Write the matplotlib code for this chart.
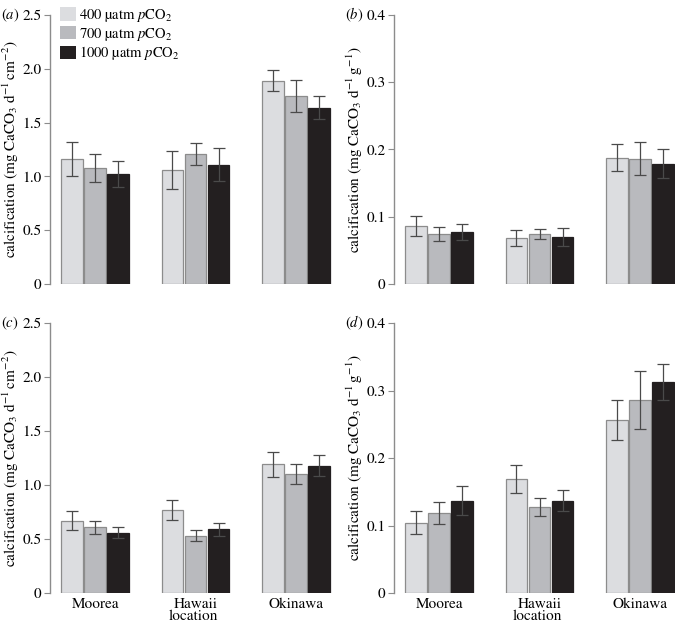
import matplotlib
matplotlib.use("Agg")
import matplotlib.pyplot as plt
import numpy as np
from matplotlib.patches import Patch
from matplotlib.ticker import FuncFormatter

plt.rcParams["font.family"] = ["STIXGeneral", "DejaVu Serif"]
plt.rcParams["mathtext.fontset"] = "stix"

# data
locations = ["Moorea", "Hawaii", "Okinawa"]
treatments = ["400 µatm $p$CO$_2$", "700 µatm $p$CO$_2$", "1000 µatm $p$CO$_2$"]
colors = ["#dcdde0", "#b9babe", "#231f20"]
edges = ["#8c8c8c", "#8c8c8c", "#231f20"]

# (a) area-normalised, first run
a_mean = [[1.16, 1.06, 1.89], [1.08, 1.21, 1.75], [1.02, 1.11, 1.64]]
a_err = [[0.16, 0.18, 0.10], [0.13, 0.105, 0.15], [0.12, 0.15, 0.11]]
# (b) mass-normalised, first run
b_mean = [[0.086, 0.069, 0.188], [0.075, 0.075, 0.186], [0.077, 0.070, 0.179]]
b_err = [[0.015, 0.012, 0.0205], [0.0105, 0.0075, 0.0245], [0.012, 0.0135, 0.021]]
# (c) area-normalised, second run
c_mean = [[0.67, 0.77, 1.19], [0.61, 0.53, 1.10], [0.56, 0.59, 1.18]]
c_err = [[0.087, 0.09, 0.115], [0.06, 0.053, 0.095], [0.055, 0.058, 0.10]]
# (d) mass-normalised, second run
d_mean = [[0.104, 0.169, 0.256], [0.1185, 0.127, 0.286], [0.137, 0.137, 0.313]]
d_err = [[0.0173, 0.0205, 0.030], [0.016, 0.0135, 0.043], [0.022, 0.015, 0.027]]

area_label = r"calcification (mg CaCO$_3$ $\mathrm{d^{-1}\,cm^{-2}}$)"
mass_label = r"calcification (mg CaCO$_3$ $\mathrm{d^{-1}\,g^{-1}}$)"

W, H = 675, 624
fig = plt.figure(figsize=(W / 100, H / 100), dpi=100)


def px_axes(left, top, width, height):
    return fig.add_axes([left / W, 1 - (top + height) / H, width / W, height / H])


panels = [
    ("a", a_mean, a_err, 2.5, 0.5, area_label, 50, 15, 269, False),
    ("b", b_mean, b_err, 0.4, 0.1, mass_label, 394, 15, 269, False),
    ("c", c_mean, c_err, 2.5, 0.5, area_label, 50, 323, 270, True),
    ("d", d_mean, d_err, 0.4, 0.1, mass_label, 394, 323, 270, True),
]

x = np.arange(len(locations))
offsets = [-0.23, 0.0, 0.23]
fmt = FuncFormatter(lambda v, p: "0" if abs(v) < 1e-9 else f"{v:.1f}")

for tag, means, errs, ymax, step, ylabel, left, top, height, bottom in panels:
    ax = px_axes(left, top, 286, height)
    for i in range(3):
        ax.bar(x + offsets[i], means[i], width=0.215, color=colors[i],
               edgecolor=edges[i], linewidth=0.9, zorder=2)
        ax.errorbar(x + offsets[i], means[i], yerr=errs[i], fmt="none",
                    ecolor="#4a4a4a", elinewidth=0.9, capsize=4, capthick=0.9,
                    zorder=3)
    ax.set_xlim(-0.45, 2.4)
    ax.set_ylim(0, ymax)
    ax.set_yticks(np.arange(0, ymax + step / 2, step))
    ax.yaxis.set_major_formatter(fmt)
    for s in ["top", "right", "bottom"]:
        ax.spines[s].set_visible(False)
    ax.spines["left"].set_color("#8c8c8c")
    ax.spines["left"].set_linewidth(1.0)
    ax.tick_params(axis="y", direction="out", length=4, color="#8c8c8c",
                   labelsize=11, pad=2)
    ax.tick_params(axis="x", length=0, labelsize=11, pad=3)
    ax.set_ylabel(ylabel, fontsize=11)
    ax.yaxis.set_label_coords(-0.1, 0.5)
    if bottom:
        ax.set_xticks(x)
        ax.set_xticklabels(locations)
        ax.set_xlabel("location", fontsize=11, labelpad=-1)
    else:
        ax.set_xticks([])
    ax.text(-0.17, 1.0, f"($\\it{{{tag}}}$)", transform=ax.transAxes,
            fontsize=10.5, ha="left", va="center")
    if tag == "a":
        handles = [Patch(facecolor=colors[i], edgecolor="none") for i in range(3)]
        ax.legend(handles, treatments, loc="upper left", bbox_to_anchor=(0.035, 1.03),
                  frameon=False, fontsize=10.5, handlelength=1.1, handleheight=1.05,
                  labelspacing=0.12, handletextpad=0.2, borderaxespad=0,
                  borderpad=0)

fig.savefig("out.png", dpi=100)
